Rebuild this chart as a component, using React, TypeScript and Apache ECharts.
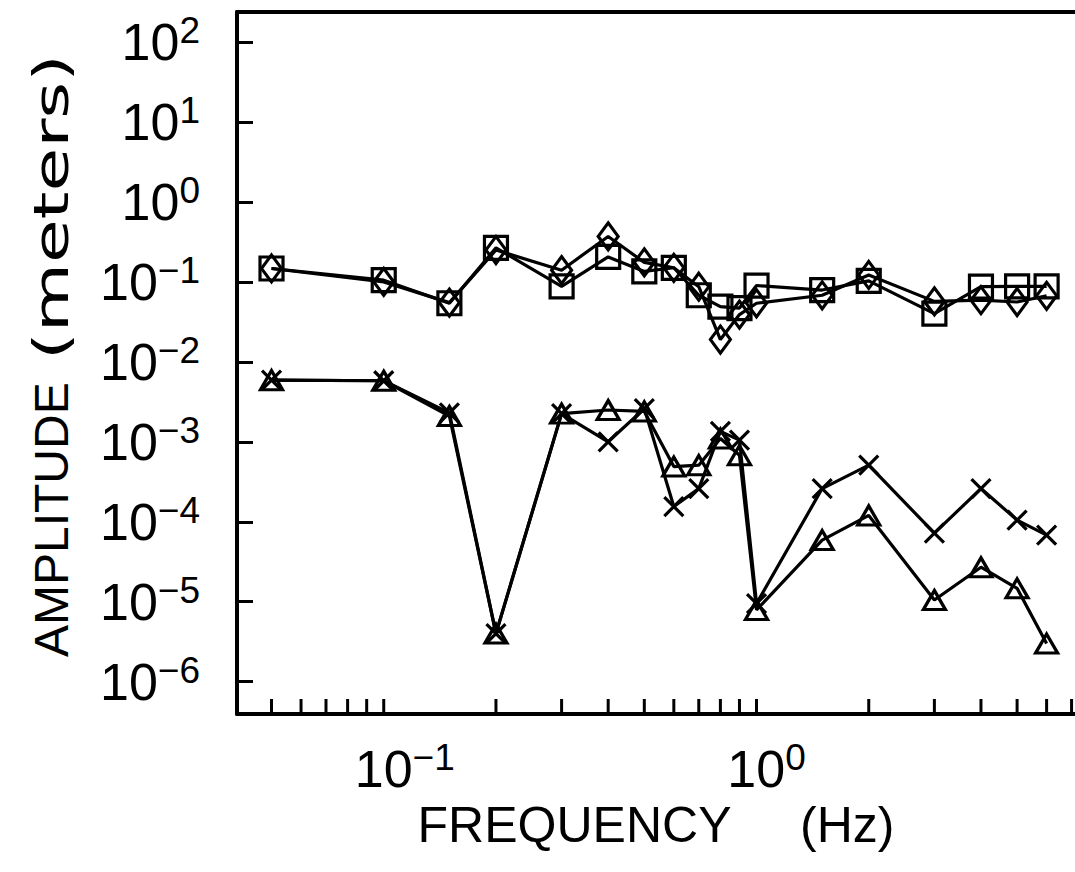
import React, { useEffect, useRef } from "react";
import * as echarts from "echarts";

// ---- data ----
const frequencies = [0.05, 0.1, 0.15, 0.2, 0.3, 0.4, 0.5, 0.6, 0.7, 0.8, 0.9, 1.0, 1.5, 2, 3, 4, 5, 6];
const squareAmp = [0.147, 0.105, 0.054, 0.266, 0.088, 0.205, 0.135, 0.15, 0.068, 0.049, 0.047, 0.09, 0.079, 0.103, 0.04, 0.087, 0.088, 0.088];
const diamondAmp = [0.147, 0.1, 0.055, 0.25, 0.14, 0.37, 0.175, 0.15, 0.087, 0.019, 0.039, 0.054, 0.068, 0.122, 0.057, 0.059, 0.056, 0.067];
const triangleAmp = [0.0059, 0.0058, 0.0021, 4.0e-6, 0.00225, 0.0025, 0.0024, 0.00049, 0.00051, 0.0011, 0.00068, 7.9e-6, 5.9e-5, 0.00012, 1.05e-5, 2.7e-5, 1.47e-5, 3.0e-6];
const crossAmp = [0.0059, 0.0058, 0.0023, 4.0e-6, 0.00225, 0.001, 0.0026, 0.000155, 0.00026, 0.00135, 0.00105, 9.5e-6, 0.00026, 0.00051, 7.2e-5, 0.00026, 0.000105, 6.8e-5];
const xTickValues = [0.05, 0.06, 0.07, 0.08, 0.09, 0.1, 0.2, 0.3, 0.4, 0.5, 0.6, 0.7, 0.8, 0.9, 1, 2, 3, 4, 5, 6, 7];
const xLabelDecades = [-1, 0];
const yLabelDecades = [-6, -5, -4, -3, -2, -1, 0, 1, 2];
const xTitle = "FREQUENCY     (Hz)";
const yTitleMain = "AMPLITUDE";
const yTitleUnit = "(meters)";

const X_MIN = 0.0404;
const X_MAX = 7.15;
const Y_MIN = 3.945e-7;
const Y_MAX = 237;

const FONT = "Liberation Sans, Arial, Helvetica, sans-serif";
const WIDE_FONT = "DejaVu Sans, Liberation Sans, sans-serif";

const supText = (e: number) => (e < 0 ? "\u2212" + -e : String(e));

const baseRich = {
  b: { fontSize: 52, fontFamily: FONT, color: "#000", lineHeight: 60, verticalAlign: "middle" },
  s: { fontSize: 37, fontFamily: FONT, color: "#000", lineHeight: 30, verticalAlign: "top" },
};

const decadeOf = (v: number) => {
  const l = Math.log10(v);
  const e = Math.round(l);
  return Math.abs(l - e) < 1e-6 ? e : null;
};

export default function App() {
  const ref = useRef<HTMLDivElement>(null);
  useEffect(() => {
    if (!ref.current) return;
    const chart = echarts.init(ref.current, undefined, { renderer: "svg" });
    const blackLine = { color: "#000", width: 3.2 };
    const lineSeries = (data: number[], symbol: string, size: any) => ({
      type: "line",
      data: frequencies.map((f, i) => [f, data[i]]),
      symbol,
      symbolSize: size,
      showAllSymbol: true,
      lineStyle: blackLine,
      itemStyle: { color: "rgba(0,0,0,0)", borderColor: "#000", borderWidth: 3.2 },
      z: 5,
    });
    chart.setOption({
      animation: false,
      backgroundColor: "#fff",
      grid: { left: 237, top: 12, right: 0, bottom: 158 },
      graphic: [
        {
          type: "group",
          x: 51,
          y: 657,
          rotation: Math.PI / 2,
          silent: true,
          children: [
            {
              type: "text",
              x: 0,
              y: 0,
              style: { text: yTitleMain, font: `48px ${FONT}`, fill: "#000", textAlign: "left", textVerticalAlign: "middle" },
            },
            {
              type: "text",
              x: 297,
              y: 0,
              scaleX: 1.48,
              style: { text: yTitleUnit, font: `48px ${WIDE_FONT}`, fill: "#000", textAlign: "left", textVerticalAlign: "middle" },
            },
          ],
        },
      ],
      xAxis: [
        {
          type: "log",
          min: X_MIN,
          max: X_MAX,
          position: "bottom",
          axisLine: { show: true, lineStyle: { color: "#000", width: 4 } },
          axisTick: { show: false },
          splitLine: { show: false },
          minorTick: { show: false },
          axisLabel: {
            show: true,
            margin: 25,
            showMinLabel: false,
            showMaxLabel: false,
            formatter: (v: number) => {
              const e = decadeOf(v);
              if (e === null || !xLabelDecades.includes(e)) return "";
              const sw = e < 0 ? 42 : 20;
              return `{sp${sw}| }{b|10}{s|${supText(e)}}`;
            },
            rich: {
              ...baseRich,
              sp42: { width: 42, fontSize: 10 },
              sp20: { width: 20, fontSize: 10 },
            },
          },
          name: xTitle,
          nameLocation: "middle",
          nameGap: 76,
          nameTextStyle: { fontSize: 50, fontFamily: FONT, color: "#000", verticalAlign: "top" },
        },
        {
          type: "log",
          min: X_MIN,
          max: X_MAX,
          position: "top",
          axisLine: { show: true, lineStyle: { color: "#000", width: 4 } },
          axisTick: { show: false },
          axisLabel: { show: false },
          splitLine: { show: false },
        },
      ],
      yAxis: {
        type: "log",
        min: Y_MIN,
        max: Y_MAX,
        splitNumber: 10,
        axisLine: { show: true, lineStyle: { color: "#000", width: 4 } },
        axisTick: { show: true, inside: true, length: 16, lineStyle: { color: "#000", width: 3 } },
        splitLine: { show: false },
        axisLabel: {
          margin: 37,
          showMinLabel: false,
          showMaxLabel: false,
          formatter: (v: number) => {
            const e = decadeOf(v);
            if (e === null || !yLabelDecades.includes(e)) return "";
            return `{b|10}{s|${supText(e)}}`;
          },
          rich: baseRich,
        },
      },
      series: [
        lineSeries(squareAmp, "rect", 23),
        lineSeries(diamondAmp, "diamond", [20, 27]),
        lineSeries(triangleAmp, "triangle", [22, 19]),
        lineSeries(crossAmp, "path://M0,0 L10,10 M10,0 L0,10", 19),
        {
          type: "custom",
          coordinateSystem: "cartesian2d",
          data: xTickValues.map((v) => [v, Y_MIN]),
          encode: { x: 0, y: 1 },
          clip: false,
          silent: true,
          z: 3,
          renderItem: (_p: any, api: any) => {
            const pt = api.coord([api.value(0), api.value(1)]);
            return {
              type: "line",
              shape: { x1: pt[0], y1: pt[1], x2: pt[0], y2: pt[1] - 15 },
              style: { stroke: "#000", lineWidth: 3 },
            };
          },
        },
      ],
    });
    return () => chart.dispose();
  }, []);
  return (
    <div
      ref={ref}
      style={{ position: "fixed", left: 0, top: 0, width: 1075, height: 872, background: "#fff" }}
    />
  );
}
